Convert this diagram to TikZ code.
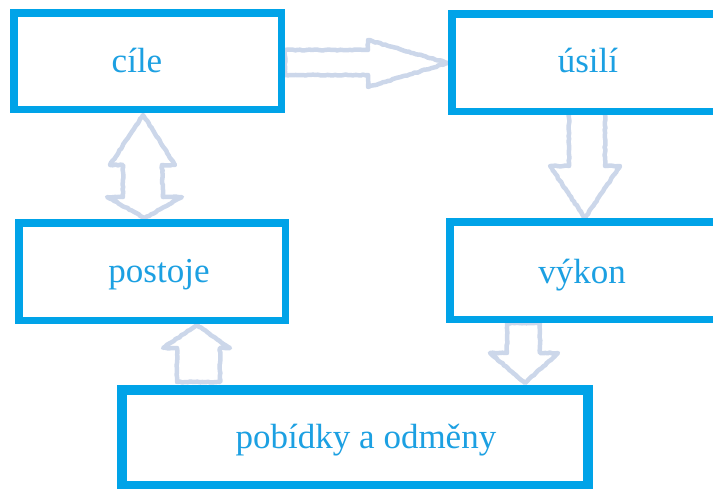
\documentclass[tikz,border=0pt]{standalone}
\usepackage{fontspec}
\setmainfont{Liberation Serif}
\usetikzlibrary{decorations.pathmorphing}
\definecolor{boxblue}{RGB}{0,163,232}
\definecolor{txtblue}{RGB}{28,160,226}
\definecolor{arrowgray}{RGB}{204,215,234}
\tikzset{
  box/.style={draw=boxblue, line width=7.5pt, fill=white, inner sep=0pt, rectangle},
  lbl/.style={anchor=base, text=txtblue, font=\fontsize{35}{40}\selectfont, inner sep=0pt},
  blockarrow/.style={draw=arrowgray, line width=4.5pt, fill=white, line join=round,
    decorate, decoration={random steps, segment length=2.5pt, amplitude=0.5pt}},
}
\begin{document}
\begin{tikzpicture}[x=1pt,y=-1pt]
\useasboundingbox (0,0) rectangle (713,488);
\clip (0,0) rectangle (713,488);
% block arrows
\draw[blockarrow] (285,50) -- (368,50) -- (368,40) -- (448,63) -- (368,87) -- (368,75) -- (285,75) -- cycle;
\draw[blockarrow] (143,115) -- (175,165) -- (162,165) -- (163,197) -- (182,197) -- (145,218) -- (107,197) -- (123,197) -- (123,165) -- (110,165) -- cycle;
\draw[blockarrow] (569,110) -- (605,110) -- (605,166) -- (620,166) -- (585,218) -- (550,166) -- (569,166) -- cycle;
\draw[blockarrow] (197,325) -- (230,348) -- (220,348) -- (220,382) -- (177,382) -- (177,348) -- (163,348) -- cycle;
\draw[blockarrow] (507,323) -- (540,323) -- (540,353) -- (558,353) -- (525,383) -- (490,353) -- (507,353) -- cycle;
% boxes
\node[box, minimum width=267.5pt, minimum height=96.5pt] (cile) at (147.5,61) {};
\node[box, minimum width=284.5pt, minimum height=97.5pt] (usili) at (594,62.5) {};
\node[box, minimum width=266.5pt, minimum height=97.5pt] (postoje) at (152,271.5) {};
\node[box, minimum width=286.5pt, minimum height=97.5pt] (vykon) at (593,270.5) {};
\node[box, line width=10pt, minimum width=466pt, minimum height=96pt] (pobidky) at (355,438) {};
% labels
\node[lbl] (tcile) at (137,72) {cíle};
\node[lbl] (tusili) at (588,72) {úsilí};
\node[lbl] (tpostoje) at (159,282) {postoje};
\node[lbl] (tvykon) at (582,283) {výkon};
\node[lbl] (tpobidky) at (366,448) {pobídky a odměny};
\end{tikzpicture}
\end{document}
